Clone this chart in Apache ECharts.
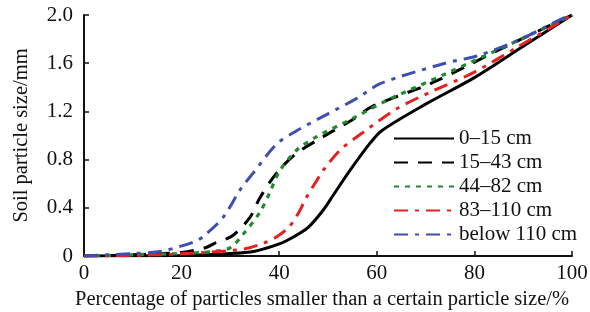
<!DOCTYPE html>
<html>
<head>
<meta charset="utf-8">
<script src="https://cdn.jsdelivr.net/npm/echarts@6/dist/echarts.min.js"></script>
<style>
  html, body { margin: 0; padding: 0; background: #fff; }
  #chart { width: 590px; height: 312px; }
</style>
</head>
<body>
<div id="chart"></div>
<script>
// values: [percentage, size in mm]
const xTicks = [0, 20, 40, 60, 80, 100];
const yTicks = [0, 0.4, 0.8, 1.2, 1.6, 2.0];

const layer0to15 = [[0, 0], [20, 0.005], [30, 0.02], [35, 0.04], [40, 0.1], [43, 0.16], [46, 0.24], [49, 0.38], [51, 0.5], [54.5, 0.71], [58.5, 0.93], [61, 1.04], [70, 1.26], [80, 1.48], [90, 1.74], [100, 2.0]];
const layer15to43 = [[0, 0], [10, 0.01], [20, 0.03], [25, 0.07], [27, 0.11], [30.5, 0.17], [34, 0.32], [36, 0.48], [39.5, 0.69], [43.5, 0.85], [49, 0.99], [55, 1.13], [59, 1.24], [71.5, 1.44], [85, 1.71], [100, 2.0]];
const layer44to82 = [[0, 0], [10, 0.01], [20, 0.02], [27, 0.04], [30, 0.07], [32.6, 0.18], [36, 0.36], [38, 0.52], [40, 0.7], [43.6, 0.88], [47.7, 0.99], [55, 1.14], [62, 1.29], [74, 1.51], [89, 1.79], [100, 2.0]];
const layer83to110 = [[0, 0], [15, 0.01], [25, 0.03], [33, 0.06], [37, 0.11], [39.5, 0.16], [42, 0.24], [44, 0.36], [45.5, 0.48], [47.6, 0.62], [49, 0.71], [52.5, 0.88], [57, 1.02], [64, 1.22], [71.5, 1.37], [79.7, 1.52], [88.7, 1.73], [100, 2.0]];
const layerBelow110 = [[0, 0], [10, 0.02], [16, 0.04], [19.7, 0.08], [22.7, 0.12], [24.4, 0.16], [28.5, 0.32], [32, 0.55], [34.7, 0.69], [39.5, 0.93], [43.6, 1.04], [50, 1.18], [56, 1.31], [60.7, 1.43], [74, 1.6], [80.5, 1.66], [89, 1.79], [98, 1.97], [100, 2.0]];

const names = ['0\u201315 cm', '15\u201343 cm', '44\u201382 cm', '83\u2013110 cm', 'below 110 cm'];

const font = '"Liberation Serif", "Times New Roman", serif';

function line(name, data, color, type, width) {
  return {
    name: name,
    type: 'line',
    data: data,
    smooth: 0.3,
    symbol: 'circle',
    showSymbol: false,
    lineStyle: { color: color, width: width, type: type },
    itemStyle: { color: color }
  };
}

const chart = echarts.init(document.getElementById('chart'), null, { renderer: 'canvas' });
chart.setOption({
  animation: false,
  grid: { left: 84, right: 18, top: 15, bottom: 56, outerBoundsMode: 'none', containLabel: false },
  legend: {
    orient: 'vertical',
    left: 388,
    top: 123,
    itemWidth: 60,
    itemHeight: 10,
    itemGap: 3,
    itemStyle: { opacity: 0 },
    textStyle: { fontFamily: font, fontSize: 21, color: '#111' },
    data: names
  },
  xAxis: {
    type: 'value',
    min: 0, max: 100, interval: 20,
    name: 'Percentage of particles smaller than a certain particle size/%',
    nameLocation: 'middle',
    nameGap: 32,
    nameTextStyle: { fontFamily: font, fontSize: 20.5, color: '#111', padding: [0, 12, 0, 0] },
    axisLine: { lineStyle: { color: '#111', width: 2 } },
    axisTick: { inside: true, length: 5, lineStyle: { color: '#111', width: 1.5 } },
    axisLabel: { fontFamily: font, fontSize: 21, color: '#111', margin: 7 },
    splitLine: { show: false }
  },
  yAxis: {
    type: 'value',
    min: 0, max: 2, interval: 0.4,
    name: 'Soil particle size/mm',
    nameLocation: 'middle',
    nameGap: 52,
    nameTextStyle: { fontFamily: font, fontSize: 20.5, color: '#111' },
    axisLine: { show: true, lineStyle: { color: '#111', width: 2 } },
    axisTick: { show: true, inside: true, length: 5, lineStyle: { color: '#111', width: 1.5 } },
    axisLabel: {
      fontFamily: font, fontSize: 21, color: '#111', margin: 11,
      formatter: v => (v === 0 ? '0' : v.toFixed(1))
    },
    splitLine: { show: false }
  },
  series: [
    line(names[0], layer0to15, '#000000', 'solid', 3),
    line(names[1], layer15to43, '#000000', [14, 10], 3),
    line(names[2], layer44to82, '#1f8a2e', [5, 6], 3.2),
    line(names[3], layer83to110, '#e3221f', [14, 7, 4, 7], 3),
    line(names[4], layerBelow110, '#3f4fb0', [14, 7, 4, 7], 3)
  ]
});
</script>
</body>
</html>
